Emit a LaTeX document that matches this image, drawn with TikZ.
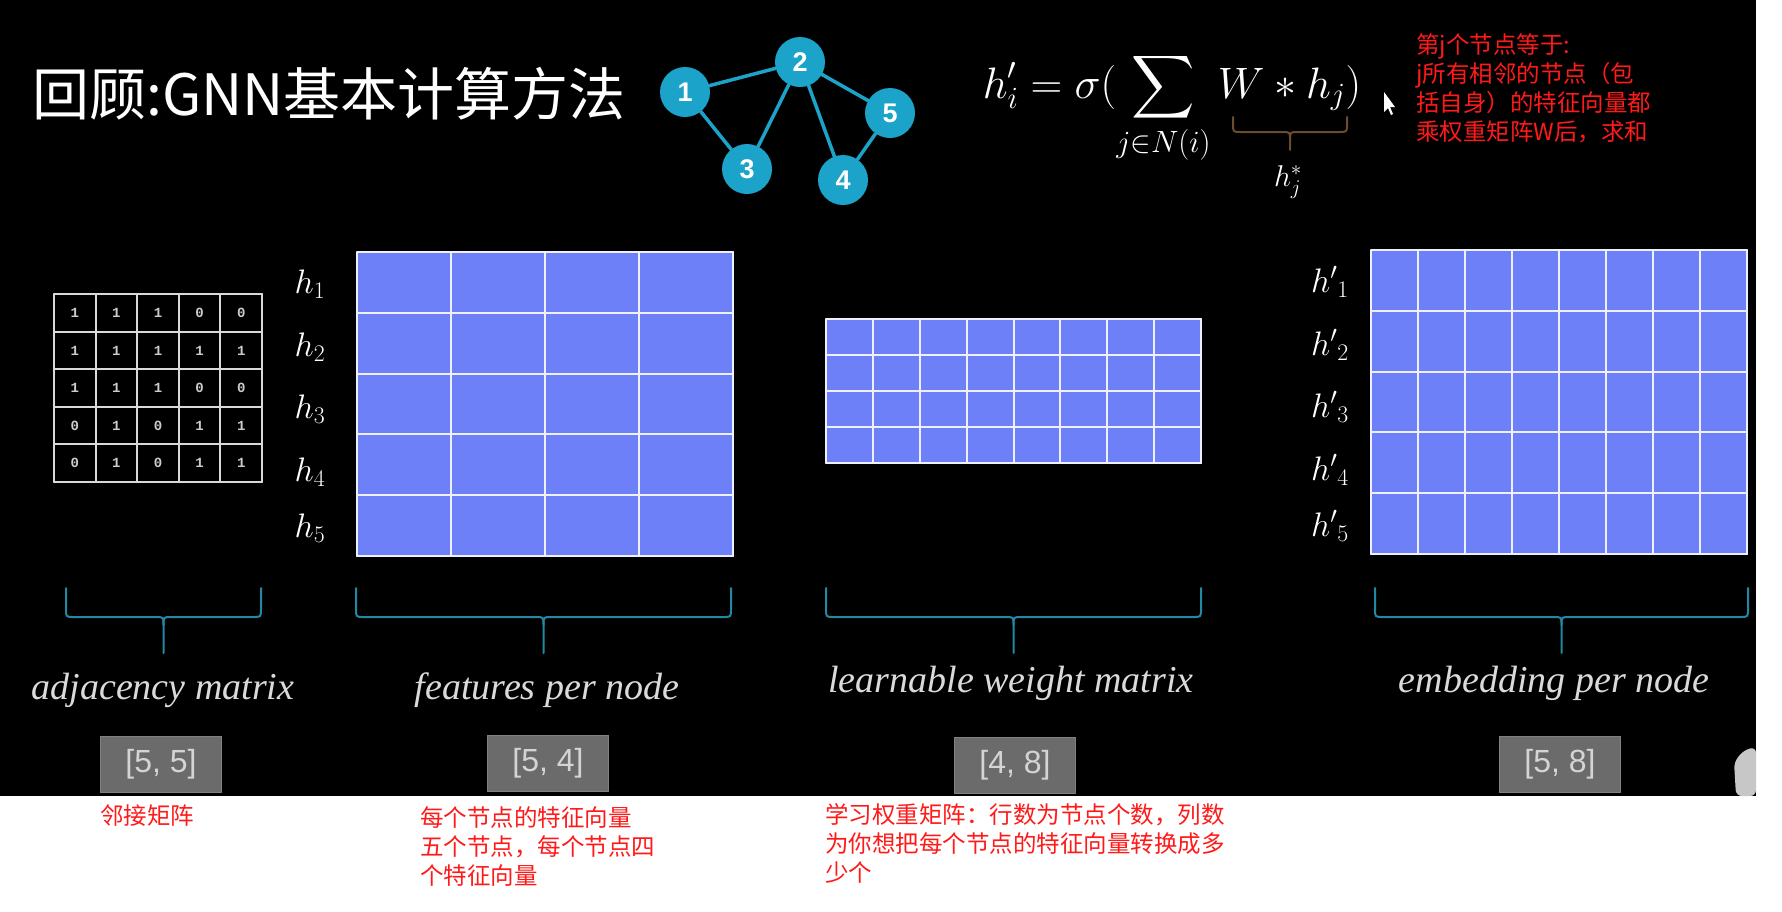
\documentclass[tikz,border=0pt]{standalone}
\usepackage{fix-cm}
\usepackage{amsmath}
\usepackage{fontspec}
\usetikzlibrary{positioning}
\DeclareFontShape{OMX}{cmex}{m}{n}{<->cmex10}{}
\newfontfamily\cjkfont{Noto Sans CJK SC}
\newfontfamily\boxfont{Liberation Sans}
\newfontfamily\digitfont{Liberation Mono}
\newfontfamily\labelfont{Liberation Serif}
\definecolor{gnnCyan}{HTML}{1CA3C9}
\definecolor{gnnCell}{HTML}{6E80F7}
\definecolor{gnnTeal}{HTML}{2388A4}
\definecolor{gnnBrown}{HTML}{6B4C2E}
\definecolor{gnnBox}{HTML}{6B6B6B}
\definecolor{gnnBoxText}{HTML}{D4D4D4}
\definecolor{gnnLabel}{HTML}{DADADA}
\definecolor{noteRed}{HTML}{FF1A1A}
\tikzset{
 gnn/.style={line cap=round,line join=round},
 slidetitle/.style={font=\cjkfont\fontsize{57}{60}\selectfont,text=white,anchor=west,inner sep=0pt},
 vertex/.style={circle,fill=gnnCyan,text=white,minimum size=50pt,inner sep=0pt,font=\boxfont\bfseries\fontsize{27}{27}\selectfont},
 gedge/.style={draw=gnnCyan,line width=3.5pt},
 cellline/.style={draw=white!88!gnnCell,line width=2pt},
 adjline/.style={draw=white!85!black,line width=2pt},
 adjnum/.style={font=\digitfont\bfseries\fontsize{14}{14}\selectfont,text=white!80!black,inner sep=0pt},
 formula/.style={font=\fontsize{44}{50}\selectfont,text=white,inner sep=0pt},
 rowlabel/.style={font=\fontsize{34}{34}\selectfont,text=white,inner sep=0pt},
 dimlabel/.style={font=\labelfont\itshape\fontsize{38}{38}\selectfont,text=gnnLabel,inner sep=0pt},
 shapebox/.style={fill=gnnBox,draw=gnnBox!85!white,line width=1pt,text=gnnBoxText,minimum width=121pt,minimum height=56pt,inner sep=0pt,font=\boxfont\fontsize{32}{32}\selectfont},
 note/.style={font=\cjkfont\fontsize{23.5}{29}\selectfont,text=noteRed,align=left,anchor=north west,inner sep=0pt},
 bracket/.style={line width=2pt,line cap=round,line join=round}
}
% bracket under a block: colour, x left, x right, y top, y bar, y tip
\newcommand{\dimBrace}[6]{%
 \pgfmathsetmacro{\bmid}{(#2+#3)/2}
 \draw[bracket,#1] (#2,#4) -- (#2,#5-8) .. controls (#2,#5) .. (#2+8,#5) -- (\bmid-8,#5)
   .. controls (\bmid,#5) .. (\bmid,#5+8) -- (\bmid,#6);
 \draw[bracket,#1] (#3,#4) -- (#3,#5-8) .. controls (#3,#5) .. (#3-8,#5) -- (\bmid+8,#5)
   .. controls (\bmid,#5) .. (\bmid,#5+8);}
% blue block of cells: x0, y0, cell width, cell height, columns, rows
\newcommand{\cellBlock}[6]{%
 \begin{scope}[shift={(#1,#2)},x=#3pt,y=-#4pt]
  \fill[gnnCell] (0,0) rectangle (#5,#6);
  \foreach \i in {0,...,#5}{\draw[cellline] (\i,0) -- (\i,#6);}
  \foreach \j in {0,...,#6}{\draw[cellline] (0,\j) -- (#5,\j);}
 \end{scope}}

\begin{document}
\begin{tikzpicture}[gnn,x=1pt,y=-1pt]
 \useasboundingbox (0,0) rectangle (1782,911);
 \fill[white] (0,0) rectangle (1782,911);
 \fill[black] (0,0) rectangle (1756,796);

 \node[slidetitle] (title) at (32,94) {回顾:GNN基本计算方法};

 % small graph
 \node[vertex] (v1) at (685,92) {1};
 \node[vertex] (v2) at (800,62) {2};
 \node[vertex] (v3) at (747,169) {3};
 \node[vertex] (v4) at (843,180) {4};
 \node[vertex] (v5) at (890,113) {5};
 \foreach \a/\b in {v1/v2,v1/v3,v2/v3,v2/v4,v2/v5,v4/v5}{\draw[gedge] (\a) -- (\b);}

 % update rule
 \node[formula,anchor=base] (eq) at (1172,98)
   {$\displaystyle h'_i=\sigma(\sum_{j\in N(i)} W*h_j)$};
 \dimBrace{gnnBrown}{1233}{1347}{117}{132}{150}
 \node[formula,font=\fontsize{30}{30}\selectfont] (hstar) at (1288,182) {$h_j^*$};
 \fill[white] (1384,92) -- (1384,112) -- (1388,108) -- (1391,115) -- (1393,114)
   -- (1390,107) -- (1395,107) -- cycle;

 \node[note] (note-rule) at (1416,33) {第j个节点等于:\\j所有相邻的节点（包\\括自身）的特征向量都\\乘权重矩阵W后，求和};

 % adjacency matrix
 \begin{scope}[shift={(54,294)},x=41.6pt,y=-37.6pt]
  \foreach \i in {0,...,5}{\draw[adjline] (\i,0) -- (\i,5);}
  \foreach \j in {0,...,5}{\draw[adjline] (0,\j) -- (5,\j);}
  \foreach \row [count=\r] in {{1,1,1,0,0},{1,1,1,1,1},{1,1,1,0,0},{0,1,0,1,1},{0,1,0,1,1}}{
   \foreach \v [count=\c] in \row{\node[adjnum] (adj-\r-\c) at (\c-0.5,\r-0.5) {\v};}}
 \end{scope}

 % feature, weight and embedding blocks
 \cellBlock{357}{252}{94}{60.8}{4}{5}
 \cellBlock{826}{319}{46.875}{36}{8}{4}
 \cellBlock{1371}{250}{47}{60.8}{8}{5}
 \foreach \k/\yy in {1/284,2/347,3/409,4/472,5/528}{
  \node[rowlabel] (h\k) at (310,\yy) {$h_{\k}$};
  \node[rowlabel] (hp\k) at (1330,\yy-2) {${h'}_{\k}$};}

 % brackets, names and shapes
 \dimBrace{gnnTeal}{66}{261}{588}{617}{653}
 \dimBrace{gnnTeal}{356}{731}{588}{617}{653}
 \dimBrace{gnnTeal}{826}{1201}{588}{617}{653}
 \dimBrace{gnnTeal}{1375}{1748}{588}{617}{653}
 \node[dimlabel] (lbl-adj) at (163,690) {adjacency matrix};
 \node[dimlabel] (lbl-feat) at (547,690) {features per node};
 \node[dimlabel] (lbl-weight) at (1011,683) {learnable weight matrix};
 \node[dimlabel] (lbl-emb) at (1554,683) {embedding per node};
 \node[shapebox] (shape-adj) at (161,764) {[5, 5]};
 \node[shapebox] (shape-feat) at (548,763) {[5, 4]};
 \node[shapebox] (shape-weight) at (1015,765) {[4, 8]};
 \node[shapebox] (shape-emb) at (1560,764) {[5, 8]};
 \fill[white!78!black,rounded corners=6pt] (1736,796) -- (1734,762) -- (1744,750) -- (1756,747) -- (1756,796) -- cycle;

 % notes under the slide
 \node[note] (note-adj) at (100,805) {邻接矩阵};
 \node[note] (note-feat) at (420,806) {每个节点的特征向量\\五个节点，每个节点四\\个特征向量};
 \node[note] (note-weight) at (825,803) {学习权重矩阵：行数为节点个数，列数\\为你想把每个节点的特征向量转换成多\\少个};
\end{tikzpicture}
\end{document}
